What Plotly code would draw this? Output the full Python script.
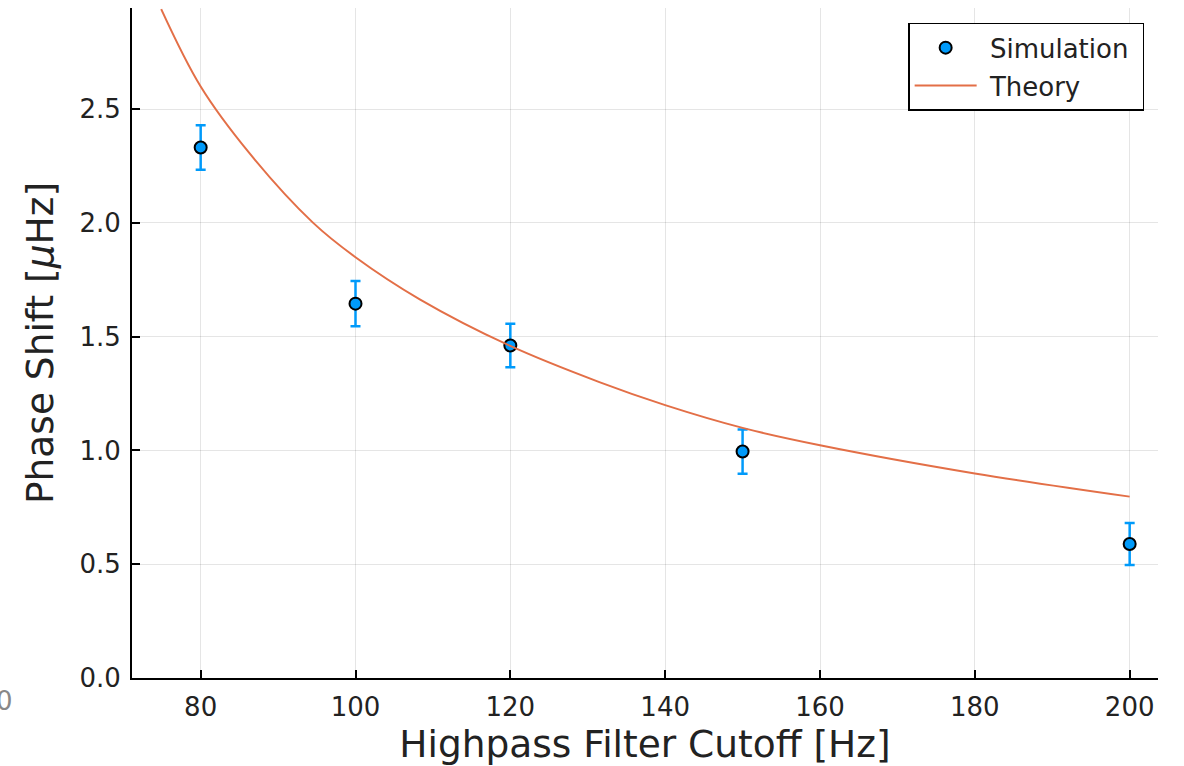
import plotly.graph_objects as go

# Simulation data
sim_x = [80, 100, 120, 150, 200]
sim_y = [2.331, 1.645, 1.461, 0.995, 0.589]
sim_err = [0.098, 0.099, 0.096, 0.097, 0.092]

# Theory curve
theory_x = [74.9, 80, 86.3, 94.5, 100, 108.3, 120, 131.5, 140, 150, 160, 180, 200]
theory_y = [2.939, 2.599, 2.306, 2.001, 1.849, 1.664, 1.459, 1.300, 1.199, 1.099, 1.023, 0.899, 0.797]

x_ticks = [80, 100, 120, 140, 160, 180, 200]
y_ticks = [0.0, 0.5, 1.0, 1.5, 2.0, 2.5]
y_ticktext = ["0.0", "0.5", "1.0", "1.5", "2.0", "2.5"]

BLUE = "#009AFA"
ORANGE = "#E36F47"
FONT = "DejaVu Sans"
NB = "\u00a0"

fig = go.Figure()
fig.add_trace(go.Scatter(
    x=sim_x, y=sim_y, mode="markers", name=NB + "Simulation" + NB, legendgroup="a",
    marker=dict(color=BLUE, size=12, line=dict(color="black", width=2)),
    error_y=dict(type="data", array=sim_err, visible=True, color=BLUE, thickness=2.5, width=5),
))
fig.add_trace(go.Scatter(
    x=theory_x, y=theory_y, mode="lines", name=NB + "Theory", legendgroup="b",
    line=dict(color=ORANGE, width=2, shape="spline", smoothing=1.0),
))

axis_common = dict(
    showline=True, linecolor="black", linewidth=2,
    ticks="inside", ticklen=8, tickwidth=1.5, tickcolor="black",
    showgrid=True, gridcolor="rgba(0,0,0,0.1)", gridwidth=1,
    zeroline=False, mirror=False,
    tickfont=dict(family=FONT, size=26, color="#222"),
)

fig.update_xaxes(
    range=[71.13, 203.66], tickvals=x_ticks,
    title=dict(text="Highpass Filter Cutoff [Hz]", font=dict(family=FONT, size=37.5, color="#222"), standoff=8),
    ticklabelstandoff=5,
    **axis_common,
)
fig.update_yaxes(
    range=[0, 2.944], tickvals=y_ticks, ticktext=y_ticktext,
    title=dict(text="Phase Shift [<i>μ</i>Hz]", font=dict(family=FONT, size=37.5, color="#222"), standoff=14),
    ticklabelstandoff=4,
    **axis_common,
)

fig.add_annotation(
    text="0", xref="paper", yref="paper", x=-0.114, y=-0.035,
    xanchor="right", yanchor="middle", showarrow=False,
    font=dict(family=FONT, size=26, color="#888"),
)

fig.update_layout(
    width=1184, height=766,
    margin=dict(l=132, r=26, t=8, b=88, autoexpand=False),
    paper_bgcolor="white", plot_bgcolor="white",
    font=dict(family=FONT),
    showlegend=True,
    legend=dict(
        x=0.9865, y=0.978, xanchor="right", yanchor="top",
        bordercolor="black", borderwidth=1.5, bgcolor="white",
        font=dict(family=FONT, size=26, color="#222"),
        itemwidth=62, traceorder="grouped", tracegroupgap=1,
    ),
)

fig.write_html("out.html")
